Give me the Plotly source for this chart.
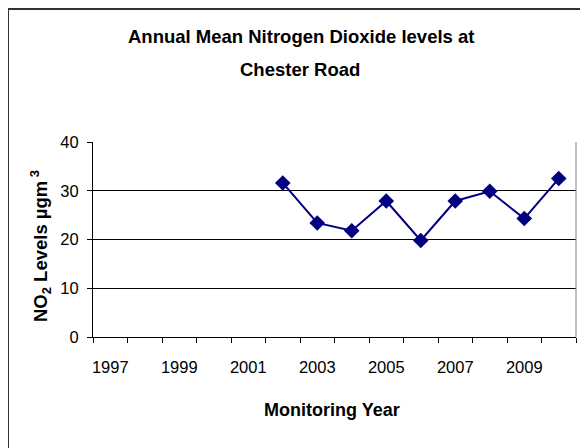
import plotly.graph_objects as go

years = [2002, 2003, 2004, 2005, 2006, 2007, 2008, 2009, 2010]
no2 = [31.6, 23.4, 21.8, 27.9, 19.8, 27.9, 29.9, 24.3, 32.5]

tick_years = [1997, 1999, 2001, 2003, 2005, 2007, 2009]
tick_labels = ["1997", "1999", "2001", "2003", "2005", "2007", "2009"]
boundaries = [1996.5 + k for k in range(15)]
y_ticks = [0, 10, 20, 30, 40]

OFF = 8  # page body margin
W, H = 580, 440
L, R, T, B = 85, 12, 134, 111
pw, ph = W - L - R, H - T - B

def px(x):
    return (x - OFF - L) / pw

def py(y):
    return (H - B - (y - OFF)) / ph

FONT = "Liberation Sans, Arial, sans-serif"

fig = go.Figure()
fig.add_trace(go.Scatter(
    x=years, y=no2, mode="lines+markers",
    line=dict(color="#000080", width=2),
    marker=dict(symbol="diamond", size=12, color="#000080"),
    cliponaxis=False, showlegend=False,
))

fig.update_layout(
    width=W, height=H,
    margin=dict(l=L, r=R, t=T, b=B),
    paper_bgcolor="white", plot_bgcolor="white",
    font=dict(family=FONT, color="black", size=16),
    xaxis=dict(
        range=[1996.5, 2010.5], tickvals=tick_years, ticktext=tick_labels,
        ticks="", showgrid=False, zeroline=False,
        showline=True, linecolor="black", linewidth=1,
        tickfont=dict(size=16.5), ticklabelstandoff=15,
        minor=dict(tickvals=boundaries, ticks="outside", ticklen=5,
                   tickcolor="black", tickwidth=1, showgrid=False),
    ),
    yaxis=dict(
        range=[0, 40], tickvals=y_ticks, ticks="outside", ticklen=5,
        tickcolor="black", showgrid=True, gridcolor="black", gridwidth=1,
        zeroline=False, showline=True, linecolor="black", linewidth=1,
        tickfont=dict(size=16.5), ticklabelstandoff=5,
    ),
    annotations=[
        dict(text="<b>Annual Mean Nitrogen Dioxide levels at</b>", x=px(301), y=py(37),
             xref="paper", yref="paper", showarrow=False, font=dict(size=18.5),
             xanchor="center", yanchor="middle"),
        dict(text="<b>Chester Road</b>", x=px(300), y=py(69),
             xref="paper", yref="paper", showarrow=False, font=dict(size=18.5),
             xanchor="center", yanchor="middle"),
        dict(text="<b>Monitoring Year</b>", x=px(332), y=py(410),
             xref="paper", yref="paper", showarrow=False, font=dict(size=18),
             xanchor="center", yanchor="middle"),
        dict(text="<b>NO<sub>2</sub> Levels µgm<sup> 3</sup></b>", x=px(40), y=py(246),
             xref="paper", yref="paper", showarrow=False, font=dict(size=18.5),
             textangle=-90, xanchor="center", yanchor="middle"),
    ],
    shapes=[
        # right plot-area border
        dict(type="line", xref="paper", yref="paper", x0=1, x1=1, y0=0, y1=1,
             line=dict(color="#808080", width=1)),
        # outer chart border (left and top visible)
        dict(type="line", xref="paper", yref="paper", x0=-L / pw, x1=(W - L + 5) / pw,
             y0=(H - B - 1) / ph, y1=(H - B - 1) / ph,
             line=dict(color="#333333", width=2)),
        dict(type="line", xref="paper", yref="paper", x0=-L / pw, x1=-L / pw,
             y0=(H - B - 1) / ph, y1=-(B + 5) / ph,
             line=dict(color="#333333", width=2)),
    ],
)

fig.write_html("out.html")
